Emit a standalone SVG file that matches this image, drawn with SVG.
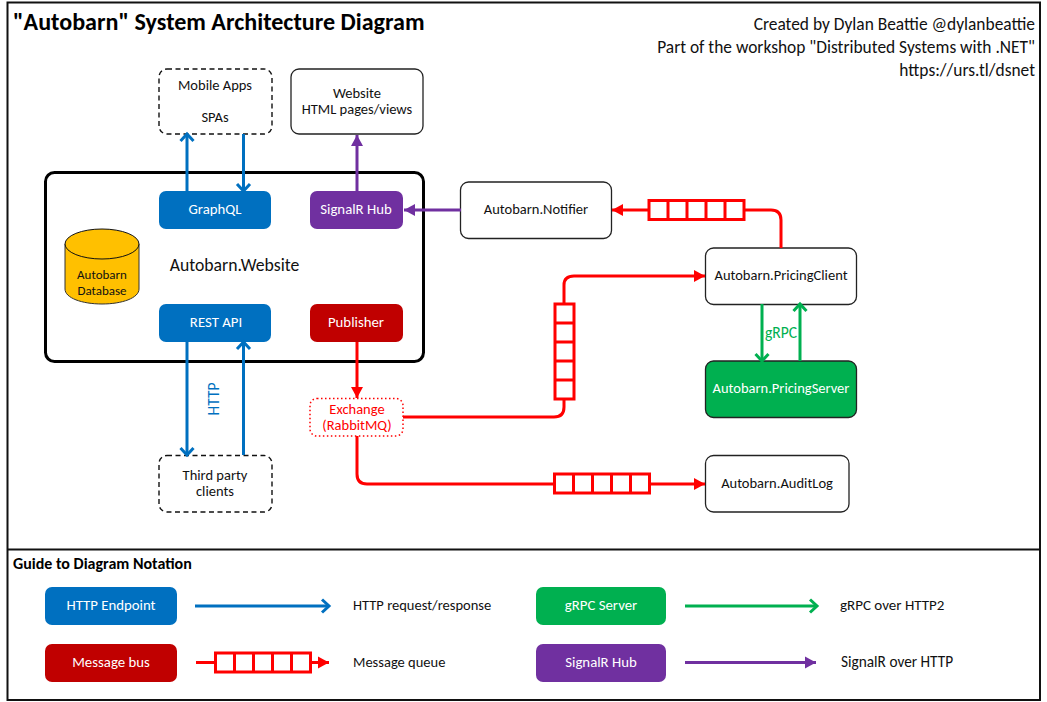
<svg xmlns="http://www.w3.org/2000/svg" width="1047" height="702" viewBox="0 0 1047 702">
<style>
text{font-family:Carlito,Lato,"Liberation Sans",sans-serif;font-size:14.500px;fill:#111;text-anchor:middle}
.w{fill:#fff;font-size:14.800px}
.n{fill:#fff;stroke:#222;stroke-width:1.3}
.d{fill:#fff;stroke:#111;stroke-width:1.4;stroke-dasharray:5 3.5}
.l{fill:none;stroke-width:3}
.b{stroke:#0070c0}.r{stroke:#ff0000}.g{stroke:#00b050}.p{stroke:#7030a0}
.q{fill:#fff;stroke:#ff0000;stroke-width:3}
.t{text-anchor:start}
.h{text-anchor:end;font-size:17.400px}
</style>
<defs>
<marker id="ob" markerUnits="userSpaceOnUse" markerWidth="18" markerHeight="18" refX="13" refY="9" orient="auto"><path d="M6 2.500 13 9 6 15.500" fill="none" stroke="#0070c0" stroke-width="3"/></marker>
<marker id="og" markerUnits="userSpaceOnUse" markerWidth="18" markerHeight="18" refX="13" refY="9" orient="auto"><path d="M6 2.500 13 9 6 15.500" fill="none" stroke="#00b050" stroke-width="3"/></marker>
<marker id="fr" markerUnits="userSpaceOnUse" markerWidth="14" markerHeight="14" refX="12" refY="7" orient="auto"><path d="M1 1 12 7 1 13z" fill="#ff0000"/></marker>
<marker id="fp" markerUnits="userSpaceOnUse" markerWidth="14" markerHeight="14" refX="12" refY="7" orient="auto"><path d="M1 1 12 7 1 13z" fill="#7030a0"/></marker>
<g id="qh"><rect class="q" x="0" y="0" width="95" height="19"/><path class="q" d="M19 0V19M38 0V19M57 0V19M76 0V19"/></g>
</defs>
<rect width="1047" height="702" fill="#fff"/>
<g id="frame" fill="none" stroke="#111" stroke-width="2"><rect x="7.500" y="2.500" width="1032.500" height="697.500"/><path d="M7.500 549.500H1040"/></g>
<text x="13" y="30" class="t" style="font-size:24.100px;font-weight:700;fill:#000">"Autobarn" System Architecture Diagram</text>
<text x="1035" y="30" class="h">Created by Dylan Beattie @dylanbeattie</text>
<text x="1035" y="53" class="h">Part of the workshop "Distributed Systems with .NET"</text>
<text x="1035" y="76" class="h">https://urs.tl/dsnet</text>

<g id="website"><rect x="45.500" y="172.500" width="378" height="189" rx="9" fill="#fff" stroke="#000" stroke-width="3"/><text x="234.500" y="271" style="font-size:17.700px">Autobarn.Website</text></g>
<g id="mobile"><rect class="d" x="159" y="69" width="113" height="65" rx="8"/><text x="215" y="90">Mobile Apps</text><text x="215" y="122">SPAs</text></g>
<g id="html"><rect class="n" x="291" y="69" width="132" height="65" rx="8"/><text x="357" y="98">Website</text><text x="357" y="114">HTML pages/views</text></g>
<g id="database"><path d="M65 244V289C65 298 82 304 102 304S139 298 139 289V244z" fill="#ffc000" stroke="#333" stroke-width="1"/><ellipse cx="102" cy="244" rx="37" ry="15" fill="#ffc000" stroke="#111" stroke-width="1"/><text x="102" y="279" style="font-size:13px">Autobarn</text><text x="102" y="295" style="font-size:13px">Database</text></g>
<g id="graphql"><rect x="159" y="191" width="112" height="38" rx="7" fill="#0070c0"/><text class="w" x="215" y="214">GraphQL</text></g>
<g id="signalr"><rect x="310" y="191" width="93" height="38" rx="7" fill="#7030a0"/><text class="w" x="356" y="214">SignalR Hub</text></g>
<g id="rest"><rect x="159" y="304" width="112" height="38" rx="7" fill="#0070c0"/><text class="w" x="216" y="327">REST API</text></g>
<g id="publisher"><rect x="310" y="304" width="93" height="38" rx="7" fill="#c00000"/><text class="w" x="356" y="327">Publisher</text></g>
<g id="exchange"><rect x="310" y="398.500" width="93" height="37.500" rx="7" fill="#fff" stroke="#ff0000" stroke-width="1.500" stroke-dasharray="1.500 2.500"/><text x="357" y="413.500" style="fill:#ff0000">Exchange</text><text x="357" y="429.500" style="fill:#ff0000">(RabbitMQ)</text></g>
<g id="third"><rect class="d" x="159" y="455.500" width="113" height="56.500" rx="8"/><text x="215" y="479.500">Third party</text><text x="215" y="495.500">clients</text></g>
<g id="notifier"><rect class="n" x="460.500" y="182" width="151" height="56.500" rx="8"/><text x="536" y="214">Autobarn.Notifier</text></g>
<g id="pricingclient"><rect class="n" x="705.500" y="248" width="151" height="56.500" rx="8"/><text x="781" y="280">Autobarn.PricingClient</text></g>
<g id="pricingserver"><rect x="705.500" y="361" width="151" height="56.500" rx="8" fill="#00b050" stroke="#222" stroke-width="1.300"/><text class="w" x="781" y="393" style="font-size:14.500px">Autobarn.PricingServer</text></g>
<g id="auditlog"><rect class="n" x="705.500" y="455.500" width="143.500" height="56.500" rx="8"/><text x="777" y="488">Autobarn.AuditLog</text></g>

<g id="connectors">
<path class="l b" d="M187 191V134" marker-end="url(#ob)"/>
<path class="l b" d="M243.500 134V191" marker-end="url(#ob)"/>
<path class="l p" d="M357 191V135" marker-end="url(#fp)"/>
<path class="l p" d="M461 210H404" marker-end="url(#fp)"/>
<path class="l b" d="M187 342V455" marker-end="url(#ob)"/>
<path class="l b" d="M243.500 455V342" marker-end="url(#ob)"/>
<path class="l r" d="M357 342V398" marker-end="url(#fr)"/>
<path class="l r" d="M403 417H554Q564 417 564 407V285Q564 276 574 276H705" marker-end="url(#fr)"/>
<path class="l r" d="M357 436V474Q357 484 367 484H705" marker-end="url(#fr)"/>
<path class="l r" d="M781 248V220Q781 210 771 210H612" marker-end="url(#fr)"/>
<path class="l g" d="M762 304V361" marker-end="url(#og)"/>
<path class="l g" d="M800 361V304" marker-end="url(#og)"/>
<use href="#qh" transform="translate(554.500,304) rotate(90) translate(0,-19.500)"/>
<use href="#qh" x="554.500" y="474"/>
<use href="#qh" x="649" y="200.500"/>
<text x="219" y="399" transform="rotate(-90 219 399)" style="fill:#0070c0;font-size:15.500px">HTTP</text>
<text x="781" y="338" style="fill:#00b050;font-size:15.500px">gRPC</text>
</g>

<g id="legend">
<text x="13" y="569" class="t" style="font-size:16px;font-weight:700;fill:#000">Guide to Diagram Notation</text>
<g id="lg-http"><rect x="45" y="587" width="132" height="38" rx="7" fill="#0070c0"/><text class="w" x="111" y="610">HTTP Endpoint</text></g>
<g id="lg-bus"><rect x="45" y="644" width="132" height="38" rx="7" fill="#c00000"/><text class="w" x="111" y="667">Message bus</text></g>
<g id="lg-grpc"><rect x="536" y="587" width="130" height="38" rx="7" fill="#00b050"/><text class="w" x="601" y="610">gRPC Server</text></g>
<g id="lg-signalr"><rect x="536" y="644" width="130" height="38" rx="7" fill="#7030a0"/><text class="w" x="601" y="667">SignalR Hub</text></g>
<path class="l b" d="M195 606H329" marker-end="url(#ob)"/>
<path class="l r" d="M196 662.500H329" marker-end="url(#fr)"/>
<use href="#qh" x="215.500" y="653"/>
<path class="l g" d="M685 606H817" marker-end="url(#og)"/>
<path class="l p" d="M685 662.500H816" marker-end="url(#fp)"/>
<text x="353" y="610" class="t">HTTP request/response</text>
<text x="353" y="667" class="t">Message queue</text>
<text x="840" y="610" class="t" style="font-size:15px">gRPC over HTTP2</text>
<text x="841" y="667" class="t" style="font-size:15.300px">SignalR over HTTP</text>
</g>
</svg>
